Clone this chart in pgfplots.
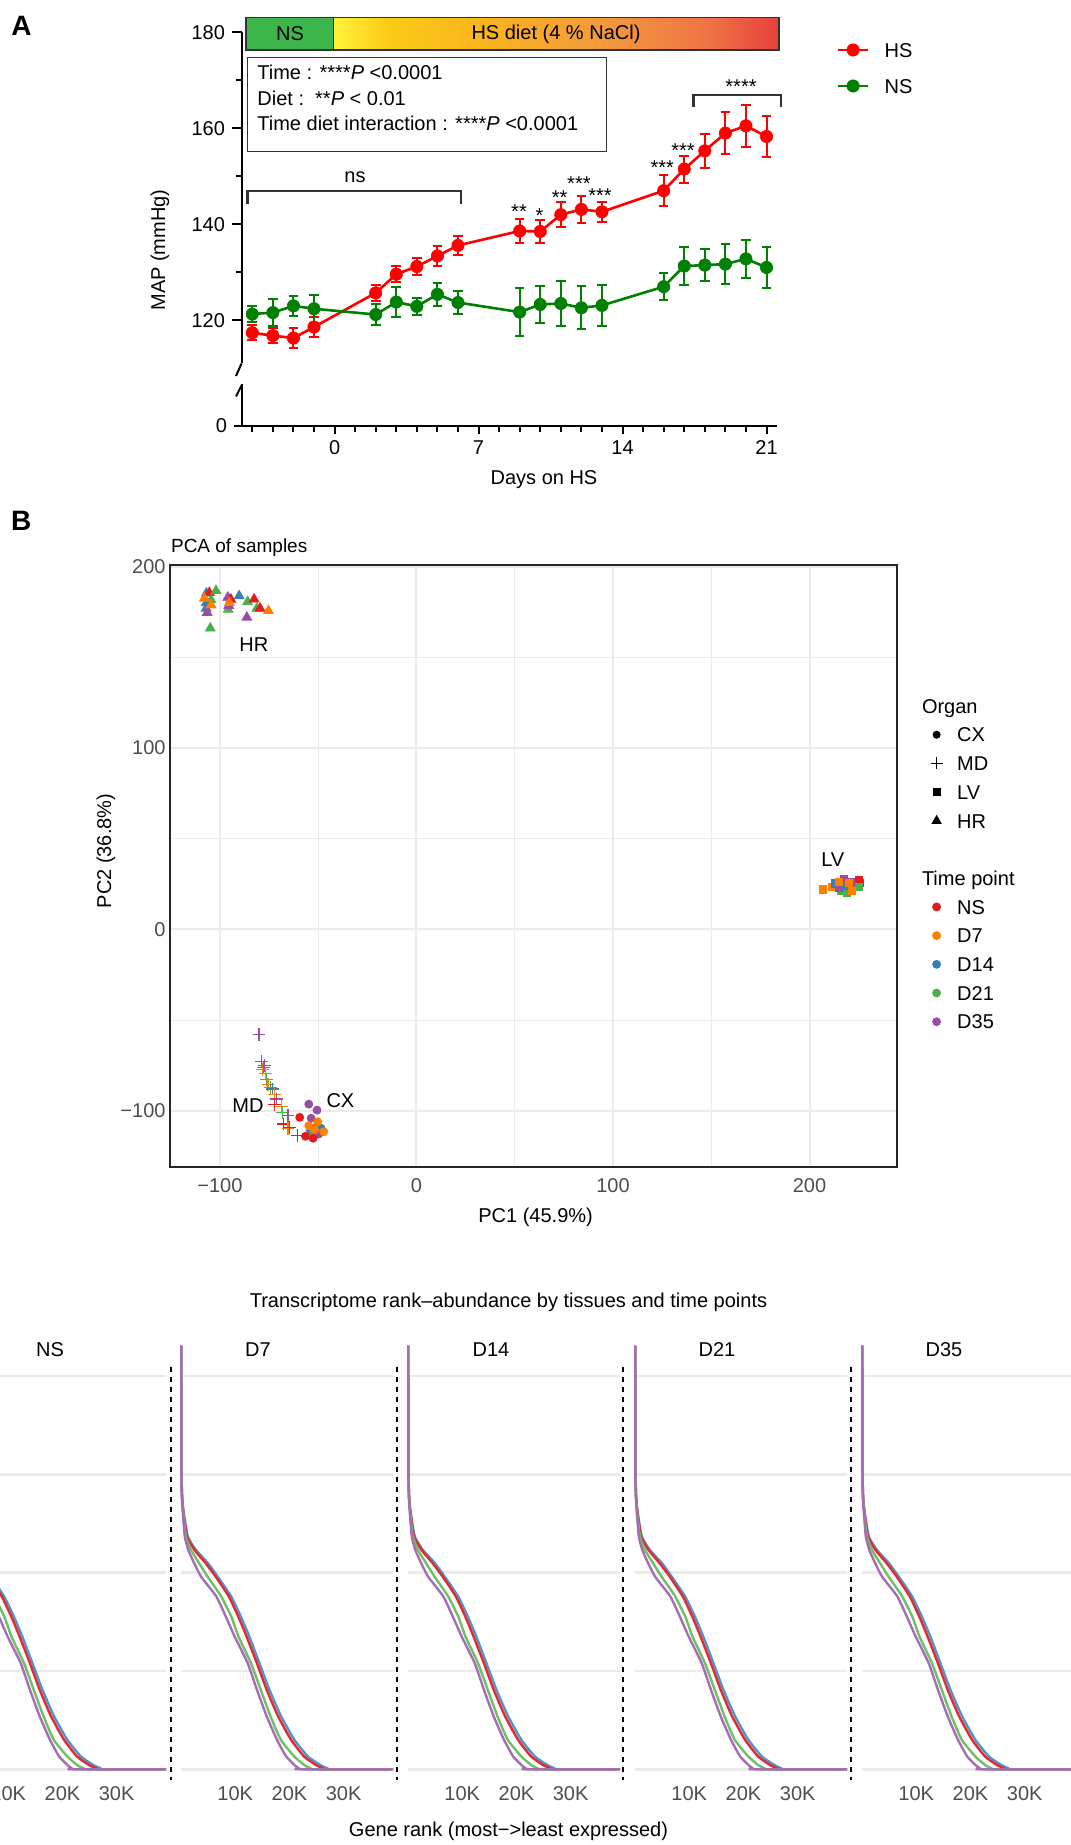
\documentclass[border=0pt]{standalone}
\usepackage{fontspec}
\setmainfont{Liberation Sans}
\usepackage{pgfplots}
\usepackage{pgfplotstable}
\pgfplotsset{compat=1.18}

\definecolor{hsred}{RGB}{255,0,0}
\definecolor{nsgreen}{RGB}{0,128,0}
\definecolor{barg}{RGB}{60,181,74}
\definecolor{g0}{HTML}{FFF33B}
\definecolor{g1}{HTML}{FCCB16}
\definecolor{g2}{HTML}{FAB41D}
\definecolor{g3}{HTML}{F39A3C}
\definecolor{g4}{HTML}{EE7445}
\definecolor{g5}{HTML}{E8403C}
\pgfdeclarehorizontalshading{hsdiet}{100bp}{color(0bp)=(g0); color(25bp)=(g0); color(31bp)=(g1); color(42bp)=(g2); color(55bp)=(g3); color(67bp)=(g4); color(75bp)=(g5); color(100bp)=(g5)}
\definecolor{cN}{HTML}{E41A1C}
\definecolor{cS}{HTML}{FF7F00}
\definecolor{cF}{HTML}{377EB8}
\definecolor{cT}{HTML}{4DAF4A}
\definecolor{cP}{HTML}{984EA3}
\definecolor{gridc}{HTML}{EBEBEB}
\definecolor{tickc}{HTML}{4D4D4D}
\definecolor{darkl}{HTML}{333333}
\definecolor{lb}{HTML}{4F94CD}
\definecolor{lr}{HTML}{E8282B}
\definecolor{lg}{HTML}{6CC065}
\definecolor{lp}{HTML}{A66DB5}
\newcommand{\myfs}{\fontsize{10}{12}\selectfont}

\pgfplotstableread{
d m e
-4 117.4 1.6
-3 116.8 1.6
-2 116.3 2.0
-1 118.6 2.0
2 125.7 1.6
3 129.6 1.7
4 131.2 1.7
5 133.4 2.1
6 135.6 1.9
9 138.6 2.6
10 138.5 2.3
11 142.0 2.6
12 143.1 2.8
13 142.6 2.1
16 147.0 3.2
17 151.5 2.8
18 155.3 3.5
19 159.0 4.3
20 160.5 4.3
21 158.3 4.2
}\HSdata
\pgfplotstableread{
d m e
-4 121.3 1.7
-3 121.6 2.8
-2 123.0 2.1
-1 122.4 2.9
2 121.2 2.2
3 123.8 3.2
4 122.9 1.8
5 125.4 2.4
6 123.7 2.4
9 121.7 5.0
10 123.3 3.8
11 123.5 4.7
12 122.6 4.5
13 123.1 4.3
16 127.0 2.8
17 131.3 3.9
18 131.5 3.3
19 131.7 4.1
20 132.8 4.0
21 131.0 4.3
}\NSdata

\pgfplotstableread{
x y c
-106.9 185.3 hF
-105.4 185.6 hN
-102.0 186.7 hT
-104.5 181.6 hT
-107.0 177.0 hF
-106.5 174.6 hP
-107.0 180.0 hF
-96.0 183.0 hP
-94.4 181.9 hN
-95.8 176.4 hT
-95.5 178.5 hP
-90.2 183.8 hF
-85.9 180.6 hT
-82.6 182.0 hN
-81.2 177.0 hT
-79.6 177.0 hN
-75.3 175.7 hS
-86.3 172.0 hP
-104.9 166.0 hT
-107.9 182.5 hS
-104.5 178.8 hS
-95.2 180.1 hS
206.9 22.0 lS
211.5 23.4 lS
213.1 25.3 lF
216.0 21.0 lT
219.1 20.1 lT
214.9 22.9 lP
218.2 23.8 lF
217.4 27.5 lP
221.6 25.9 lP
225.0 27.1 lN
225.8 25.6 lN
225.0 23.4 lT
214.9 26.0 lS
219.9 25.6 lS
221.6 21.0 lS
-80.1 -57.8 mP
-78.9 -73.1 mF
-77.9 -76.2 mF
-77.5 -74.9 mP
-78.4 -77.5 mS
-76.7 -79.3 mS
-76.2 -82.6 mT
-75.5 -85.4 mS
-74.2 -87.2 mT
-73.3 -88.1 mF
-72.1 -90.9 mS
-71.1 -93.6 mP
-72.1 -96.4 mN
-68.8 -97.6 mS
-68.3 -100.9 mT
-65.4 -102.8 mP
-67.7 -107.4 mN
-65.4 -109.7 mS
-64.4 -109.2 mN
-60.7 -113.8 mN
-54.8 -96.4 cP
-50.6 -99.7 cP
-59.4 -103.7 cN
-53.6 -104.2 cP
-51.4 -109.2 cF
-53.9 -111.1 cF
-52.3 -111.9 cT
-49.7 -112.9 cP
-48.5 -109.7 cF
-56.5 -114.1 cN
-52.6 -115.2 cN
-54.8 -108.3 cS
-50.3 -106.1 cS
-51.8 -110.5 cS
-47.2 -111.6 cS
}\PCA

\pgfplotstableread{
x y
0.05 4.31
0.06 3.6
0.10 3.0
0.20 2.78
0.43 2.64
1.24 2.37
2.77 2.23
4.93 2.10
6.77 1.96
9.23 1.76
11.07 1.55
12.60 1.35
14.46 1.08
16.30 0.81
18.45 0.54
20.90 0.30
23.40 0.13
25.80 0.04
26.80 0.015
27.10 0
39.1 0
}\Cblue
\pgfplotstableread{
x y
0.05 4.31
0.06 3.6
0.10 3.0
0.20 2.78
0.40 2.64
1.10 2.37
2.50 2.23
4.50 2.10
6.40 1.96
8.80 1.76
10.60 1.55
12.10 1.35
14.00 1.08
15.80 0.81
17.90 0.54
20.30 0.30
22.70 0.13
25.00 0.04
26.00 0.015
26.3 0
39.1 0
}\Cred
\pgfplotstableread{
x y
0.05 4.31
0.06 3.6
0.09 3.0
0.18 2.78
0.35 2.64
0.90 2.37
1.85 2.23
3.30 2.10
4.90 1.96
7.40 1.76
9.30 1.55
10.60 1.35
12.90 1.08
14.70 0.81
16.50 0.54
18.40 0.30
20.90 0.13
22.80 0.04
23.70 0.015
24.0 0
39.1 0
}\Cgreen
\pgfplotstableread{
x y
0.05 4.31
0.06 3.6
0.08 3.0
0.15 2.78
0.30 2.64
0.70 2.37
1.35 2.23
2.40 2.10
3.70 1.96
6.50 1.76
8.30 1.55
9.90 1.35
12.30 1.08
14.00 0.81
15.80 0.54
17.70 0.30
19.40 0.13
21.00 0.04
21.60 0.015
21.8 0
39.1 0
}\Cpurple

\newcommand{\facet}[1]{%
\begin{axis}[
  at={(#1*0.5pt,-889.55pt)}, anchor=south west,
  scale only axis, width=106pt, height=218.7pt,
  xmin=0, xmax=39.1, ymin=-0.1, ymax=4.35,
  axis line style={draw=none},
  xtick={10,20,30}, xticklabels={10K,20K,30K},
  ytick={0,1,2,3,4}, yticklabels={},
  ymajorgrids, major grid style={gridc, line width=1.35pt},
  major tick length=0pt, tick style={draw=none},
  xticklabel style={font=\myfs, color=tickc},
  clip=false]
\addplot[lb, line width=1.2pt, smooth, tension=0.3] table[x=x,y=y] {\Cblue};
\addplot[lr, line width=1.2pt, smooth, tension=0.3] table[x=x,y=y] {\Cred};
\addplot[lg, line width=1.2pt, smooth, tension=0.3] table[x=x,y=y] {\Cgreen};
\addplot[lp, line width=1.2pt, smooth, tension=0.3] table[x=x,y=y] {\Cpurple};
\end{axis}}

\begin{document}
\begin{tikzpicture}
\path[use as bounding box] (0,0) rectangle (535pt,-922.5pt);

% ---------- Panel A upper ----------
\begin{axis}[
  at={(121pt,-16.15pt)}, anchor=north west,
  scale only axis, width=267.4pt, height=165.6pt,
  xmin=-4.5, xmax=21.5, ymin=111, ymax=180,
  axis x line=none, axis y line*=left,
  axis line style={line width=1pt,-},
  ytick={120,140,160,180}, minor ytick={130,150,170},
  tick align=outside, major tick length=5pt, minor tick length=3pt,
  tick style={black, line width=1pt},
  yticklabel style={font=\myfs},
  /pgf/number format/assume math mode=true,
  clip=false,
  legend style={at={(axis description cs:1.1126,0.9683)}, anchor=north west,
    draw=none, fill=none, inner sep=0pt, outer sep=0pt, row sep=10.8pt, column sep=7.7pt,
    font=\myfs, nodes={inner sep=0pt, text height=7.2pt, text depth=0pt}},
  legend cell align=left,
  legend image code/.code={\draw[mark repeat=2,mark phase=2,#1] plot coordinates {(0pt,0pt) (7.4pt,0pt) (14.8pt,0pt)};},
]
\addplot[color=hsred, line width=1.3pt, mark=*, mark size=3.1pt, mark options={solid, fill=hsred, line width=0.3pt},
  error bars/.cd, y dir=both, y explicit, error bar style={hsred, line width=1pt, solid},
  error mark options={hsred, line width=1pt, mark size=2.4pt, rotate=90}]
  table[x=d, y=m, y error=e] {\HSdata};
\addlegendentry{HS}
\addplot[color=nsgreen, line width=1.3pt, mark=*, mark size=3.1pt, mark options={solid, fill=nsgreen, line width=0.3pt},
  error bars/.cd, y dir=both, y explicit, error bar style={nsgreen, line width=1pt, solid},
  error mark options={nsgreen, line width=1pt, mark size=2.4pt, rotate=90}]
  table[x=d, y=m, y error=e] {\NSdata};
\addlegendentry{NS}
\end{axis}

% ---------- Panel A lower ----------
\begin{axis}[
  at={(121pt,-212.85pt)}, anchor=south west,
  scale only axis, width=267.4pt, height=20.85pt,
  xmin=-4.5, xmax=21.5, ymin=0, ymax=8.69,
  axis x line*=bottom, axis y line*=left,
  axis line style={line width=1pt,-},
  xtick={0,7,14,21}, minor xtick={-4,...,21}, ytick={0},
  tick align=outside, major tick length=4pt, minor tick length=3pt,
  tick style={black, line width=1pt},
  ticklabel style={font=\myfs},
  /pgf/number format/assume math mode=true,
]
\addplot[draw=none, forget plot] coordinates {(0,0)};
\end{axis}

% ---------- Panel B ----------
\begin{axis}[
  at={(85pt,-282.5pt)}, anchor=north west,
  scale only axis, width=363.5pt, height=300.85pt,
  xmin=-125.4, xmax=244.5, ymin=-130.9, ymax=200.9,
  xtick={-100,0,100,200}, xticklabels={−100,0,100,200},
  ytick={-100,0,100,200}, yticklabels={−100,0,100,200},
  minor xtick={-50,50,150}, minor ytick={-50,50,150},
  grid=both, major grid style={gridc, line width=1pt}, minor grid style={gridc, line width=0.5pt},
  major tick length=0pt, minor tick length=0pt, tick style={draw=none},
  axis line style={line width=0.8pt, black!85},
  ticklabel style={font=\myfs, color=tickc},
  xticklabel style={yshift=-2.2pt},
  yticklabel style={xshift=1.3pt},
  clip=false,
  legend style={at={(axis description cs:1.0462,0.7776)}, anchor=north west,
    draw=none, fill=none, inner sep=0pt, outer sep=0pt, row sep=7.15pt, column sep=7.3pt,
    font=\myfs, nodes={inner sep=0pt, text height=7.2pt, text depth=0pt}},
  legend cell align=left,
  legend image code/.code={\draw[#1] plot coordinates {(0pt,0pt)};},
]
\addplot[scatter, only marks, scatter src=explicit symbolic, forget plot,
  scatter/classes={
    hN={mark=triangle*, mark size=2.8pt, cN}, hS={mark=triangle*, mark size=2.8pt, cS},
    hF={mark=triangle*, mark size=2.8pt, cF}, hT={mark=triangle*, mark size=2.8pt, cT},
    hP={mark=triangle*, mark size=2.8pt, cP},
    lN={mark=square*, mark size=1.8pt, cN}, lS={mark=square*, mark size=1.8pt, cS},
    lF={mark=square*, mark size=1.8pt, cF}, lT={mark=square*, mark size=1.8pt, cT},
    lP={mark=square*, mark size=1.8pt, cP},
    mN={mark=+, mark size=3.2pt, line width=0.6pt, cN}, mS={mark=+, mark size=3.2pt, line width=0.6pt, cS},
    mF={mark=+, mark size=3.2pt, line width=0.6pt, cF}, mT={mark=+, mark size=3.2pt, line width=0.6pt, cT},
    mP={mark=+, mark size=3.2pt, line width=0.6pt, cP},
    cN={mark=*, mark size=2pt, cN}, cS={mark=*, mark size=2pt, cS},
    cF={mark=*, mark size=2pt, cF}, cT={mark=*, mark size=2pt, cT},
    cP={mark=*, mark size=2pt, cP}}]
  table[x=x, y=y, meta=c] {\PCA};
\node[font=\myfs] at (axis cs:-82.7,156.8) {HR};
\node[font=\myfs] at (axis cs:211.8,38.2) {LV};
\node[font=\myfs] at (axis cs:-85.7,-97.2) {MD};
\node[font=\myfs] at (axis cs:-38.7,-94.6) {CX};
\addlegendimage{empty legend}\addlegendentry{\hspace*{-17.6pt}Organ}
\addlegendimage{only marks, mark=*, black, mark size=1.8pt}\addlegendentry{CX}
\addlegendimage{only marks, mark=+, black, mark size=3pt, line width=0.5pt}\addlegendentry{MD}
\addlegendimage{only marks, mark=square*, black, mark size=1.7pt}\addlegendentry{LV}
\addlegendimage{only marks, mark=triangle*, black, mark size=2.6pt}\addlegendentry{HR}
\addlegendimage{empty legend}\addlegendentry{}
\addlegendimage{empty legend}\addlegendentry{\hspace*{-17.6pt}Time point}
\addlegendimage{only marks, mark=*, cN, mark size=2pt}\addlegendentry{NS}
\addlegendimage{only marks, mark=*, cS, mark size=2pt}\addlegendentry{D7}
\addlegendimage{only marks, mark=*, cF, mark size=2pt}\addlegendentry{D14}
\addlegendimage{only marks, mark=*, cT, mark size=2pt}\addlegendentry{D21}
\addlegendimage{only marks, mark=*, cP, mark size=2pt}\addlegendentry{D35}
\end{axis}

% ---------- Panel C ----------
\facet{-46}
\facet{181}
\facet{408}
\facet{635}
\facet{862}

% ---------- annotations in pixel coordinates ----------
\begin{scope}[x=0.5pt, y=-0.5pt]
% panel labels
\node[font=\fontsize{14}{16}\selectfont\bfseries] at (21.4,26) {A};
\node[font=\fontsize{14}{16}\selectfont\bfseries] at (21.2,521) {B};
% header bar
\fill[barg] (246,17.7) rectangle (333.5,50);
\shade[shading=hsdiet] (333.5,17.7) rectangle (779,50);
\draw[darkl, line width=0.7pt] (246,17.7) rectangle (779,50);
\draw[darkl, line width=0.7pt] (333.5,17.7) -- (333.5,50);
\node[font=\myfs] at (290,33.9) {NS};
\node[font=\myfs] at (556,33.9) {HS diet (4 \% NaCl)};
% stats box
\draw[darkl, line width=0.7pt] (247.6,57.3) rectangle (606.7,151.7);
\node[font=\myfs, anchor=base west, inner sep=0pt] at (257,80) {Time : ****\textit{P} <0.0001};
\node[font=\myfs, anchor=base west, inner sep=0pt] at (257,106) {Diet :\ \ **\textit{P} < 0.01};
\node[font=\myfs, anchor=base west, inner sep=0pt] at (257,130.8) {Time diet interaction : ****\textit{P} <0.0001};
% brackets
\draw[darkl, line width=1.3pt] (247.6,204) -- (247.6,191) -- (461,191) -- (461,204);
\node[font=\myfs, anchor=base, inner sep=0pt] at (355,182.2) {ns};
\draw[darkl, line width=1.3pt] (693.2,107.3) -- (693.2,95) -- (781,95) -- (781,107.3);
\node[font=\myfs, anchor=base, inner sep=0pt] at (741,93.1) {****};
% stars
\node[font=\myfs, anchor=base, inner sep=0pt] at (519,218.1) {**};
\node[font=\myfs, anchor=base, inner sep=0pt] at (539.4,222.1) {*};
\node[font=\myfs, anchor=base, inner sep=0pt] at (559.7,204.1) {**};
\node[font=\myfs, anchor=base, inner sep=0pt] at (578.9,190.4) {***};
\node[font=\myfs, anchor=base, inner sep=0pt] at (600,202.1) {***};
\node[font=\myfs, anchor=base, inner sep=0pt] at (662.3,174.1) {***};
\node[font=\myfs, anchor=base, inner sep=0pt] at (683,157.1) {***};
% axis break
\draw[black, line width=1pt] (241.5,363.5) -- (236,376);
\draw[black, line width=1pt] (236,396.5) -- (242,384.5);
% axis titles A
\node[font=\myfs, rotate=90] at (160,250) {MAP (mmHg)};
\node[font=\myfs] at (544,480) {Days on HS};
% panel B titles
\node[font=\fontsize{9.5}{11}\selectfont, anchor=base west, inner sep=0pt] at (170.7,552.2) {PCA of samples};
\node[font=\myfs] at (535.6,1217) {PC1 (45.9\%)};
\node[font=\myfs, rotate=90] at (106,851) {PC2 (36.8\%)};
% panel C
\node[font=\myfs] at (508.5,1302) {Transcriptome rank–abundance by tissues and time points};
\node[font=\myfs] at (508.5,1831.7) {Gene rank (most−>least expressed)};
\node[font=\myfs] at (50,1350) {NS};
\node[font=\myfs] at (258,1350) {D7};
\node[font=\myfs] at (491,1350) {D14};
\node[font=\myfs] at (717,1350) {D21};
\node[font=\myfs] at (944,1350) {D35};
\foreach \xx in {171,396.6,623.2,850.5} {
  \draw[black, line width=1pt, dash pattern=on 2.5pt off 2.5pt] (\xx,1366.7) -- (\xx,1780);
}
\end{scope}
\end{tikzpicture}
\end{document}
